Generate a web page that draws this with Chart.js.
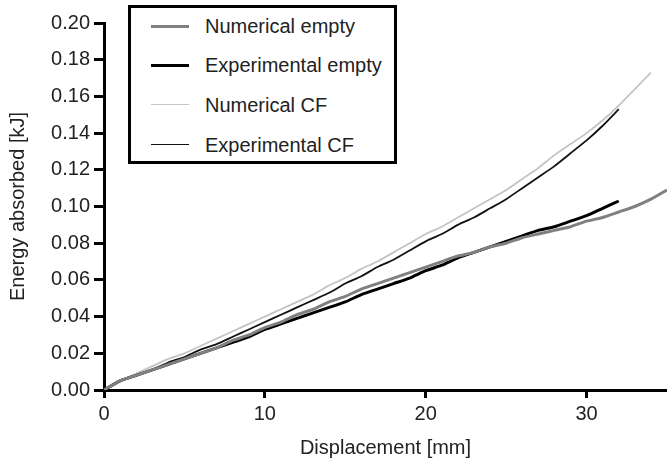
<!DOCTYPE html>
<html>
<head>
<meta charset="utf-8">
<script src="https://cdn.jsdelivr.net/npm/chart.js@4.4.0/dist/chart.umd.min.js"></script>
<style>
  html, body { margin: 0; padding: 0; background: #fff; }
  #wrap { position: relative; width: 667px; height: 464px; }
  #legend {
    position: absolute; left: 128px; top: 5px; width: 263px; height: 153px;
    border: 3px solid #000; background: #fff;
    font-family: "Liberation Sans", Arial, sans-serif; font-size: 20px; color: #222;
  }
  .item { position: absolute; left: 0; height: 24px; line-height: 24px; }
  .item span.line { position: absolute; left: 20px; width: 38px; top: 12px; }
  .item span.txt { position: absolute; left: 74px; white-space: nowrap; }
</style>
</head>
<body>
<div id="wrap">
  <canvas id="c" width="667" height="464"></canvas>
  <div id="legend"></div>
</div>
<script>
// displacement [mm] / energy [kJ]
const numEmptyX = [0, 1, 2, 3, 4, 5, 6, 7, 8, 9, 10, 11, 12, 13, 14, 15, 16, 17, 18, 19, 20, 21, 22, 23, 24, 25, 26, 27, 28, 29, 30, 31, 32, 33, 34, 35];
const numEmptyY = [0, 0.005, 0.008, 0.011, 0.014, 0.017, 0.020, 0.023, 0.027, 0.030, 0.034, 0.037, 0.041, 0.044, 0.048, 0.051, 0.055, 0.058, 0.061, 0.064, 0.067, 0.070, 0.073, 0.075, 0.078, 0.080, 0.083, 0.085, 0.087, 0.089, 0.092, 0.094, 0.097, 0.100, 0.104, 0.109];

const expEmptyX = [0, 1, 2, 3, 4, 5, 6, 7, 8, 9, 10, 11, 12, 13, 14, 15, 16, 17, 18, 19, 20, 21, 22, 23, 24, 25, 26, 27, 28, 29, 30, 31, 32];
const expEmptyY = [0, 0.005, 0.008, 0.011, 0.014, 0.017, 0.020, 0.023, 0.026, 0.029, 0.033, 0.036, 0.039, 0.042, 0.045, 0.048, 0.052, 0.055, 0.058, 0.061, 0.065, 0.068, 0.072, 0.075, 0.078, 0.081, 0.084, 0.087, 0.089, 0.092, 0.095, 0.099, 0.103];

const numCFX = [0, 1, 2, 3, 4, 5, 6, 7, 8, 9, 10, 11, 12, 13, 14, 15, 16, 17, 18, 19, 20, 21, 22, 23, 24, 25, 26, 27, 28, 29, 30, 31, 32, 33, 34];
const numCFY = [0, 0.005, 0.009, 0.013, 0.017, 0.020, 0.024, 0.028, 0.032, 0.036, 0.040, 0.044, 0.048, 0.052, 0.057, 0.061, 0.066, 0.070, 0.075, 0.080, 0.085, 0.089, 0.094, 0.099, 0.104, 0.109, 0.115, 0.121, 0.128, 0.134, 0.140, 0.147, 0.155, 0.164, 0.173];

const expCFX = [0, 1, 2, 3, 4, 5, 6, 7, 8, 9, 10, 11, 12, 13, 14, 15, 16, 17, 18, 19, 20, 21, 22, 23, 24, 25, 26, 27, 28, 29, 30, 31, 32];
const expCFY = [0, 0.005, 0.008, 0.011, 0.015, 0.018, 0.022, 0.025, 0.029, 0.033, 0.037, 0.041, 0.045, 0.049, 0.053, 0.058, 0.062, 0.067, 0.071, 0.076, 0.081, 0.085, 0.090, 0.094, 0.099, 0.104, 0.110, 0.116, 0.122, 0.129, 0.136, 0.144, 0.153];

const xTicks = [0, 10, 20, 30];

function pts(xs, ys) { return xs.map((x, i) => ({ x: x, y: ys[i] })); }

const series = [
  { label: 'Numerical empty', data: pts(numEmptyX, numEmptyY), color: '#808080', width: 3 },
  { label: 'Experimental empty', data: pts(expEmptyX, expEmptyY), color: '#000000', width: 3 },
  { label: 'Numerical CF', data: pts(numCFX, numCFY), color: '#c4c4c4', width: 1.8 },
  { label: 'Experimental CF', data: pts(expCFX, expCFY), color: '#111111', width: 1.8 }
];

// legend box (html), row centres in page px
const legendTops = [26, 65, 105, 145];
const legendEl = document.getElementById('legend');
series.forEach((s, i) => {
  const d = document.createElement('div');
  d.className = 'item';
  d.style.top = (legendTops[i] - 3 - 5 - 12) + 'px';
  d.innerHTML = '<span class="line" style="border-top:' + s.width + 'px solid ' + s.color + ';margin-top:-' + (s.width / 2) + 'px"></span>' +
    '<span class="txt">' + s.label + '</span>';
  legendEl.appendChild(d);
});

const font = { family: '"Liberation Sans", Arial, sans-serif', size: 20 };

new Chart(document.getElementById('c'), {
  type: 'line',
  data: {
    datasets: series.map(s => ({
      label: s.label,
      data: s.data,
      borderColor: s.color,
      borderWidth: s.width,
      pointRadius: 0,
      tension: 0.2,
      fill: false
    }))
  },
  options: {
    responsive: false,
    animation: false,
    layout: { padding: { top: 23, right: 0, left: 0, bottom: 0 } },
    plugins: { legend: { display: false }, tooltip: { enabled: false } },
    scales: {
      x: {
        type: 'linear', min: 0, max: 35,
        afterBuildTicks: (scale) => { scale.ticks = xTicks.map(v => ({ value: v })); },
        afterFit: (scale) => { scale.height = 74; },
        ticks: { color: '#222', font: font, padding: 4, maxRotation: 0 },
        grid: { drawOnChartArea: false, drawTicks: true, tickLength: 8, color: '#000', lineWidth: 3 },
        border: { color: '#000', width: 3 },
        title: { display: true, text: 'Displacement [mm]', color: '#222', font: font, padding: { top: 6 } }
      },
      y: {
        min: 0, max: 0.2,
        afterFit: (scale) => { scale.width = 104; },
        ticks: { stepSize: 0.02, color: '#222', font: font, padding: 4, callback: v => v.toFixed(2) },
        grid: { drawOnChartArea: false, drawTicks: true, tickLength: 10, color: '#000', lineWidth: 3 },
        border: { color: '#000', width: 3 },
        title: { display: true, text: 'Energy absorbed [kJ]', color: '#222', font: font, padding: { top: 6, bottom: 4 } }
      }
    }
  }
});
</script>
</body>
</html>
